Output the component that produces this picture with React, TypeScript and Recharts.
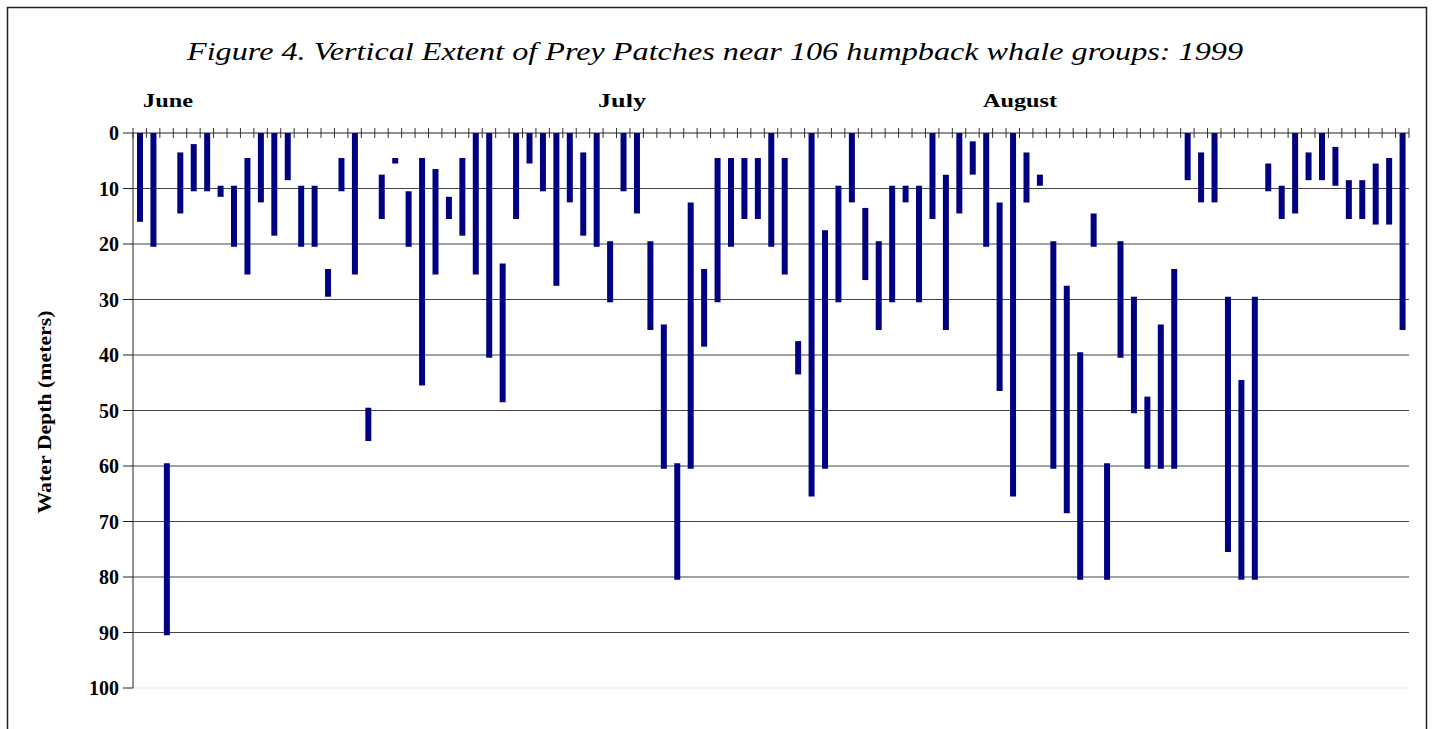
import React from "react";
import { BarChart, Bar, XAxis, YAxis, CartesianGrid, ReferenceLine } from "recharts";

// top and bottom of each prey patch (m), one entry per whale group, left to right
const patchTop = [
  0, 0, 59.5, 3.5, 2, 0, 9.5, 9.5, 4.5, 0, 0, 0, 9.5, 9.5, 24.5, 4.5,
  0, 49.5, 7.5, 4.5, 10.5, 4.5, 6.5, 11.5, 4.5, 0, 0, 23.5, 0, 0, 0,
  0, 0, 3.5, 0, 19.5, 0, 0, 19.5, 34.5, 59.5, 12.5, 24.5, 4.5, 4.5, 4.5, 4.5,
  0, 4.5, 37.5, 0, 17.5, 9.5, 0, 13.5, 19.5, 9.5, 9.5, 9.5, 0, 7.5, 0, 1.5,
  0, 12.5, 0, 3.5, 7.5, 19.5, 27.5, 39.5, 14.5, 59.5, 19.5, 29.5, 47.5, 34.5, 24.5,
  0, 3.5, 0, 29.5, 44.5, 29.5, 5.5, 9.5, 0, 3.5, 0, 2.5, 8.5, 8.5, 5.5, 4.5, 0,
];
const patchBottom = [
  16, 20.5, 90.5, 14.5, 10.5, 10.5, 11.5, 20.5, 25.5, 12.5, 18.5, 8.5, 20.5, 20.5, 29.5, 10.5,
  25.5, 55.5, 15.5, 5.5, 20.5, 45.5, 25.5, 15.5, 18.5, 25.5, 40.5, 48.5, 15.5, 5.5, 10.5,
  27.5, 12.5, 18.5, 20.5, 30.5, 10.5, 14.5, 35.5, 60.5, 80.5, 60.5, 38.5, 30.5, 20.5, 15.5, 15.5,
  20.5, 25.5, 43.5, 65.5, 60.5, 30.5, 12.5, 26.5, 35.5, 30.5, 12.5, 30.5, 15.5, 35.5, 14.5, 7.5,
  20.5, 46.5, 65.5, 12.5, 9.5, 60.5, 68.5, 80.5, 20.5, 80.5, 40.5, 50.5, 60.5, 60.5, 60.5,
  8.5, 12.5, 12.5, 75.5, 80.5, 80.5, 10.5, 15.5, 14.5, 8.5, 8.5, 9.5, 15.5, 15.5, 16.5, 16.5, 35.5,
];
const groups = patchTop.map((_, i) => `G${i + 1}`);

const depthTicks = [0, 10, 20, 30, 40, 50, 60, 70, 80, 90, 100];
const gridDepths = [10, 20, 30, 40, 50, 60, 70, 80, 90];
const months = [
  { name: "June", x: 143, w: 50 },
  { name: "July", x: 598, w: 48 },
  { name: "August", x: 983, w: 74 },
];

const W = 1433;
const H = 729;
const plot = { left: 133, top: 133, right: 1409, bottom: 688 };
const serif = "'Liberation Serif', 'Times New Roman', serif";

const data = groups.map((g, i) => ({ group: g, depth: [patchTop[i], patchBottom[i]] }));

const band = (plot.right - plot.left) / groups.length;

// excel style: ticks crossing the axis, between categories
const BoundaryTick = (props: any) => {
  const { x, index } = props;
  const y = plot.top;
  const xs = [x - band / 2];
  if (index === groups.length - 1) xs.push(x + band / 2);
  return (
    <g>
      {xs.map((tx, k) => (
        <line key={k} x1={tx} x2={tx} y1={y - 5} y2={y + 5} stroke="#333" strokeWidth={1} />
      ))}
    </g>
  );
};

const DepthTick = (props: any) => {
  const { x, y, payload } = props;
  return (
    <text x={x} y={y} dy={7} textAnchor="end" fontFamily={serif} fontWeight="bold" fontSize={20} fill="#000">
      {payload.value}
    </text>
  );
};

export default function App() {
  return (
    <div style={{ position: "absolute", left: 0, top: 0, width: W, height: H, overflow: "hidden", background: "#fff" }}>
      <BarChart
        width={W}
        height={H}
        data={data}
        margin={{ top: plot.top - 20, left: plot.left - 60, right: W - plot.right, bottom: H - plot.bottom }}
        barCategoryGap={0}
      >
        <CartesianGrid
          vertical={false}
          stroke="#444"
          horizontalCoordinatesGenerator={({ offset }: any) =>
            gridDepths.map((v) =>
              offset ? offset.top + (v / 100) * offset.height : plot.top + (v / 100) * (plot.bottom - plot.top)
            )
          }
        />
        <ReferenceLine y={100} stroke="#e4e4e4" />
        <XAxis
          dataKey="group"
          orientation="top"
          height={20}
          interval={0}
          tickLine={false}
          tickSize={0}
          tickMargin={0}
          axisLine={{ stroke: "#222" }}
          tick={<BoundaryTick />}
        />
        <YAxis
          type="number"
          domain={[0, 100]}
          reversed
          ticks={depthTicks}
          interval={0}
          width={60}
          tickSize={10}
          tickMargin={4}
          axisLine={{ stroke: "#222" }}
          tickLine={{ stroke: "#222" }}
          tick={<DepthTick />}
        />
        <Bar dataKey="depth" fill="#000080" barSize={6} isAnimationActive={false} />
      </BarChart>
      <svg width={W} height={H} style={{ position: "absolute", left: 0, top: 0, pointerEvents: "none" }}>
        <rect x={7.5} y={7.5} width={1419} height={800} fill="none" stroke="#222" strokeWidth={1.5} />
        <text
          x={715}
          y={60}
          textAnchor="middle"
          fontFamily={serif}
          fontStyle="italic"
          fontSize={25}
          textLength={1056}
          lengthAdjust="spacingAndGlyphs"
          fill="#000"
        >
          Figure 4. Vertical Extent of Prey Patches near 106 humpback whale groups: 1999
        </text>
        {months.map((m) => (
          <text
            key={m.name}
            x={m.x}
            y={107}
            fontFamily={serif}
            fontWeight="bold"
            fontSize={19}
            textLength={m.w}
            lengthAdjust="spacingAndGlyphs"
            fill="#000"
          >
            {m.name}
          </text>
        ))}
        <text
          transform="translate(51 412) rotate(-90)"
          textAnchor="middle"
          fontFamily={serif}
          fontWeight="bold"
          fontSize={18}
          textLength={203}
          lengthAdjust="spacingAndGlyphs"
          fill="#000"
        >
          Water Depth (meters)
        </text>
      </svg>
    </div>
  );
}
